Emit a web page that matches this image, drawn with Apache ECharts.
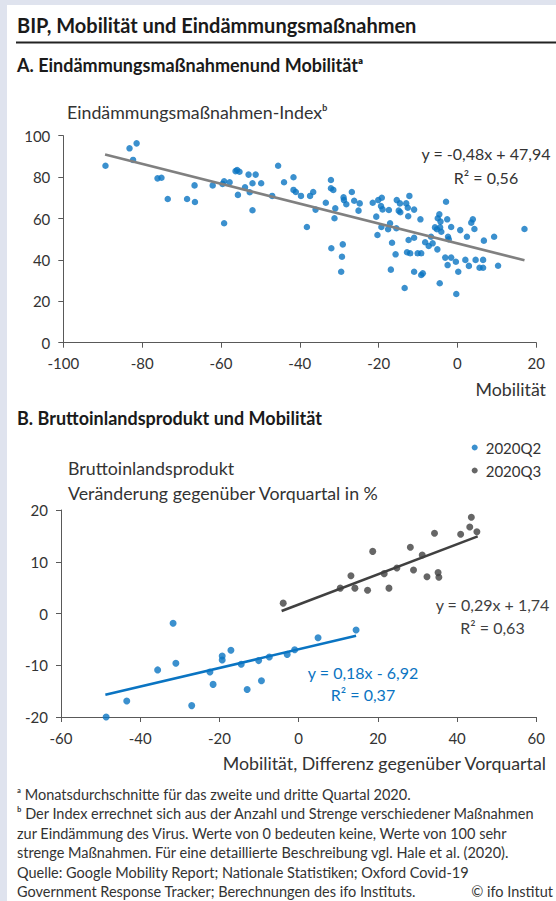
<!DOCTYPE html>
<html><head><meta charset="utf-8">
<script src="https://cdn.jsdelivr.net/npm/echarts@6/dist/echarts.min.js"></script>
<style>html,body{margin:0;padding:0;background:#dfe3ee;}#c{width:556px;height:901px;}</style>
</head><body><div id="c"></div>
<script>
// ---- Data ----
const pointsA = [
[-89.3,85.5],[-83.2,93.9],[-81.4,96.3],[-82.3,88.3],[-76.1,79.4],[-75.1,79.7],[-73.5,69.4],[-68.6,69.4],[-66.7,76.0],[-66.6,68.0],[-62.1,76.0],[-59.6,76.7],[-59.2,78.0],[-59.2,57.7],[-57.8,77.5],[-56.3,82.9],[-55.9,83.4],[-55.3,82.6],[-55.7,71.4],[-53.9,75.1],[-53.0,81.2],[-51.2,81.2],[-52.7,72.7],[-52.0,77.0],[-52.0,64.0],[-49.8,77.0],[-47.0,70.9],[-45.5,85.5],[-44.0,77.5],[-41.6,79.9],[-41.6,73.8],[-41.0,72.8],[-39.7,70.9],
[-37.4,70.9],[-36.6,72.8],[-36.0,64.3],[-38.2,55.9],[-33.4,67.6],[-32.1,78.6],[-32.1,74.6],[-31.5,73.8],[-31.0,64.9],[-31.2,60.1],[-32.0,45.6],[-29.1,47.5],[-29.3,41.5],[-29.5,34.3],[-28.9,70.2],[-28.8,68.9],[-28.2,66.9],[-26.8,72.8],[-26.2,68.6],[-24.8,67.3],[-25.1,63.8],[-21.5,67.6],[-20.1,68.9],[-19.2,70.0],[-19.4,66.0],[-19.0,64.4],[-20.6,60.9],[-20.3,52.0],[-19.3,55.9],[-17.6,54.8],[-17.1,57.7],[-17.4,64.1],[-15.4,68.9],[-14.6,67.3],[-14.9,63.8],[-14.5,63.0],[-15.5,55.3],[-16.6,48.3],[-15.7,42.7],[-16.9,35.3],[-13.4,26.4],[-12.2,70.9],[-13.0,67.3],[-12.6,65.2],[-12.5,61.1],[-11.0,64.3],[-9.4,59.6],[-12.4,49.6],[-11.0,50.7],[-12.8,43.7],[-12.0,43.2],[-10.1,43.2],[-9.2,43.2],[-11.0,34.3],[-9.2,32.7],[-8.8,33.5],[-8.2,48.5],[-7.3,46.7],[-6.7,51.2],[-6.3,48.0],[-5.1,45.1],[-5.7,55.7],[-5.2,54.8],[-4.4,55.7],[-4.1,53.6],[-5.0,60.1],[-4.6,62.0],[-4.3,58.5],[-2.9,68.1],[-2.6,59.6],[-1.6,55.9],[-2.4,51.2],[-2.2,50.0],[-4.5,28.7],[-3.1,41.1],[-1.6,41.1],[-2.5,37.5],[-0.4,39.1],[0.2,34.3],[-0.3,23.5],[0.7,54.4],[2.4,51.2],[2.0,40.0],[2.9,37.1],[3.5,58.0],[3.9,59.6],[4.3,54.9],[4.6,40.0],[5.6,36.2],[6.5,36.2],[6.5,40.0],[6.7,49.3],[9.3,51.2],[10.3,37.2],[17.0,54.9]
];
const trendA = [[-89.4, 90.9],[17.0, 39.8]];

const pointsQ2 = [[-48.6,-20.0],[-43.4,-16.9],[-35.6,-10.9],[-31.7,-1.9],[-31.0,-9.6],[-27.0,-17.8],[-22.4,-11.3],[-21.6,-13.7],[-19.3,-8.2],[-19.3,-9.0],[-17.1,-7.1],[-14.5,-9.8],[-13.0,-14.7],[-10.1,-9.1],[-9.4,-13.0],[-7.4,-8.4],[-2.9,-7.9],[-1.0,-7.0],[4.9,-4.7],[14.5,-3.2]];
const pointsQ3 = [[-3.9,2.0],[10.5,4.9],[13.2,7.3],[14.2,4.9],[17.4,4.5],[18.7,12.0],[21.6,7.7],[22.8,4.9],[24.8,8.8],[28.2,12.8],[29.0,8.4],[31.2,11.3],[32.4,7.1],[34.3,15.5],[35.2,7.9],[35.4,7.0],[40.9,15.3],[43.2,16.7],[43.6,18.6],[45.0,15.8]];
const trendQ2 = [[-48.8,-15.7],[14.5,-4.3]];
const trendQ3 = [[-4.3,0.5],[45.2,14.9]];

const xTicksA = {min:-100, max:20, step:20};
const yTicksA = {min:0, max:100, step:20};
const xTicksB = {min:-60, max:60, step:20};
const yTicksB = {min:-20, max:20, step:10};

const seriesNames = ['2020Q2','2020Q3'];
const eqA = ['y = -0,48x + 47,94','R\u00B2 = 0,56'];
const eqQ3 = ['y = 0,29x + 1,74','R\u00B2 = 0,63'];
const eqQ2 = ['y = 0,18x - 6,92','R\u00B2 = 0,37'];
const footnotes = [
 '\u1D43 Monatsdurchschnitte für das zweite und dritte Quartal 2020.',
 '\u1D47 Der Index errechnet sich aus der Anzahl und Strenge verschiedener Maßnahmen',
 'zur Eindämmung des Virus. Werte von 0 bedeuten keine, Werte von 100 sehr',
 'strenge Maßnahmen. Für eine detaillierte Beschreibung vgl. Hale et al. (2020).',
 'Quelle: Google Mobility Report; Nationale Statistiken; Oxford Covid-19',
 'Government Response Tracker; Berechnungen des ifo Instituts.'
];

// ---- Styles ----
const FONT = 'Lato';
const TXT = '#333333';
const AX = '#595959';
const BLUE = '#0a74c2';
const DARK = '#404040';

function axis(spec, gridIndex){
  return {
    type:'value', gridIndex, min:spec.min, max:spec.max, interval:spec.step,
    axisLine:{show:true, onZero:false, lineStyle:{color:AX, width:1}},
    axisTick:{show:true, length:5, lineStyle:{color:AX}},
    splitLine:{show:false},
    axisLabel:{color:TXT, fontFamily:FONT, fontSize:15, margin:13}
  };
}
function txt(x, y, text, opts){
  return {type:'text', x, y, style:Object.assign({text, fill:TXT, font:'17.8px '+FONT, textVerticalAlign:'middle', textAlign:'left'}, opts||{})};
}

const graphic = [
  {type:'rect', shape:{x:7,y:5,width:549,height:896}, style:{fill:'#ffffff'}, z:-10},
  {type:'line', shape:{x1:16,y1:42.5,x2:556,y2:42.5}, style:{stroke:'#222', lineWidth:2}},
  txt(17, 25, 'BIP, Mobilität und Eindämmungsmaßnahmen', {font:'bold 20px '+FONT, fill:'#1a1a1a'}),
  txt(17, 65, 'A. Eindämmungsmaßnahmenund Mobilität\u1D43', {font:'bold 18px '+FONT, fill:'#1a1a1a'}),
  txt(67, 112, 'Eindämmungsmaßnahmen-Index\u1D47'),
  txt(546, 389, 'Mobilität', {textAlign:'right'}),
  txt(486, 153, eqA[0], {textAlign:'center', font:'16px '+FONT}),
  txt(486, 177, eqA[1], {textAlign:'center', font:'16px '+FONT}),
  txt(17, 418, 'B. Bruttoinlandsprodukt und Mobilität', {font:'bold 18px '+FONT, fill:'#1a1a1a'}),
  txt(68, 468, 'Bruttoinlandsprodukt'),
  txt(68, 493, 'Veränderung gegenüber Vorquartal in %'),
  txt(492.5, 604, eqQ3[0], {textAlign:'center', fill:DARK, font:'16px '+FONT}),
  txt(492.5, 627, eqQ3[1], {textAlign:'center', fill:DARK, font:'16px '+FONT}),
  txt(363, 672, eqQ2[0], {textAlign:'center', fill:BLUE, font:'16px '+FONT}),
  txt(363, 694, eqQ2[1], {textAlign:'center', fill:BLUE, font:'16px '+FONT}),
  txt(546, 763, 'Mobilität, Differenz gegenüber Vorquartal', {textAlign:'right'}),
  txt(553, 891.5, '\u00A9 ifo Institut', {textAlign:'right', font:'14.5px '+FONT})
];
footnotes.forEach((t,i)=>graphic.push(txt(17, 794 + i*19.5, t, {font:'14.5px '+FONT})));

const chart = echarts.init(document.getElementById('c'), null, {renderer:'svg'});
chart.setOption({
  animation:false,
  backgroundColor:'#dfe3ee',
  textStyle:{fontFamily:FONT},
  grid:[
    {left:63.3, top:135.7, width:473, height:207},
    {left:61, top:510, width:475.3, height:207}
  ],
  xAxis:[axis(xTicksA,0), axis(xTicksB,1)],
  yAxis:[axis(yTicksA,0), axis(yTicksB,1)],
  legend:{
    data:seriesNames, orient:'vertical', left:466.7, top:435, itemWidth:12, itemHeight:6, itemGap:8,
    icon:'circle', textStyle:{color:TXT, fontFamily:FONT, fontSize:15}
  },
  graphic,
  series:[
    {type:'scatter', xAxisIndex:0, yAxisIndex:0, data:pointsA, symbolSize:6.5, itemStyle:{color:BLUE}, clip:false, z:3},
    {type:'line', xAxisIndex:0, yAxisIndex:0, data:trendA, symbol:'none', lineStyle:{color:'#808080', width:2.6}, z:4},
    {name:seriesNames[0], type:'scatter', xAxisIndex:1, yAxisIndex:1, data:pointsQ2, symbolSize:7, itemStyle:{color:BLUE}, clip:false, z:3},
    {name:seriesNames[1], type:'scatter', xAxisIndex:1, yAxisIndex:1, data:pointsQ3, symbolSize:7, itemStyle:{color:DARK}, clip:false, z:3},
    {type:'line', xAxisIndex:1, yAxisIndex:1, data:trendQ2, symbol:'none', lineStyle:{color:BLUE, width:2.6}, z:4},
    {type:'line', xAxisIndex:1, yAxisIndex:1, data:trendQ3, symbol:'none', lineStyle:{color:DARK, width:2.6}, z:4}
  ]
});
</script></body></html>
